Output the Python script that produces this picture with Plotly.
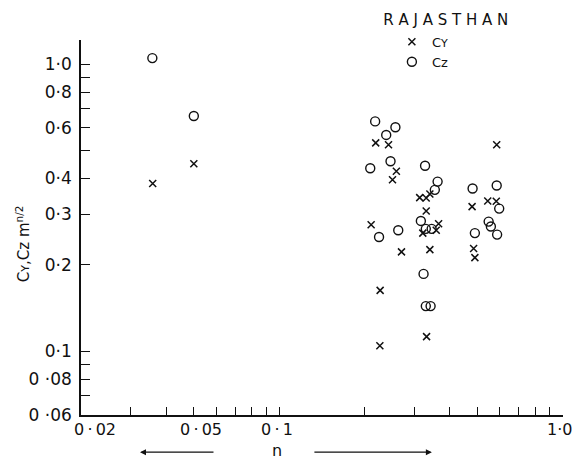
import plotly.graph_objects as go
import numpy as np

# ---- data ----
n_cy = [0.0358, 0.050, 0.219, 0.243, 0.585, 0.259, 0.251, 0.313, 0.330, 0.340,
        0.330, 0.211, 0.365, 0.358, 0.321, 0.479, 0.544, 0.583, 0.270, 0.340,
        0.485, 0.490, 0.227, 0.331, 0.2265]
cy = [0.384, 0.450, 0.532, 0.524, 0.524, 0.424, 0.396, 0.343, 0.342, 0.353,
      0.308, 0.276, 0.278, 0.264, 0.258, 0.319, 0.334, 0.333, 0.222, 0.226,
      0.228, 0.212, 0.163, 0.1125, 0.1045]

n_cz = [0.0357, 0.050, 0.218, 0.257, 0.2385, 0.2095, 0.247, 0.327, 0.362, 0.354,
        0.481, 0.585, 0.597, 0.316, 0.329, 0.345, 0.263, 0.225, 0.490, 0.548,
        0.558, 0.587, 0.323, 0.329, 0.342]
cz = [1.05, 0.66, 0.632, 0.603, 0.567, 0.434, 0.459, 0.443, 0.390, 0.365,
      0.369, 0.378, 0.314, 0.2845, 0.267, 0.267, 0.264, 0.250, 0.258, 0.283,
      0.272, 0.255, 0.186, 0.1437, 0.1437]

TS = "\u2009"   # thin space, mimics the wide hand lettering
x_tickvals = [0.02, 0.03, 0.04, 0.05, 0.06, 0.07, 0.08, 0.09, 0.1,
              0.2, 0.3, 0.4, 0.5, 0.6, 0.7, 0.8, 0.9, 1.0]
x_labelvals = [0.02, 0.05, 0.1, 1.0]
x_labeltext = ["0" + TS + "·" + TS + "02", "0" + TS + "·" + TS + "05",
               "0" + TS + "·" + TS + "1", "1·0"]
x_labelshift = [14, 7, -2, -3]   # hand-lettered labels sit slightly off their ticks
y_tickvals = [0.06, 0.07, 0.08, 0.09, 0.1, 0.2, 0.3, 0.4, 0.5, 0.6, 0.7, 0.8, 0.9, 1.0]
y_ticktext = ["0 ·06", "", "0 ·08", "", "0·1", "0·2", "0·3", "0·4", "", "0·6", "", "0·8", "", "1·0"]

INK = "#111111"
FONT = "DejaVu Sans"
small_y = "<span style='font-size:11px'>Y</span>"

fig = go.Figure()
fig.add_trace(go.Scatter(
    x=n_cy, y=cy, mode="markers", name="C" + small_y,
    marker=dict(symbol="x-thin", size=7, color=INK,
                line=dict(color=INK, width=1.5)),
))
fig.add_trace(go.Scatter(
    x=n_cz, y=cz, mode="markers", name="Cz",
    marker=dict(symbol="circle-open", size=9, color=INK,
                line=dict(color=INK, width=1.4)),
))

fig.update_layout(
    width=573, height=459,
    margin=dict(l=81, r=10, t=40, b=44, autoexpand=False),
    paper_bgcolor="white", plot_bgcolor="white",
    font=dict(family=FONT, color=INK, size=16),
    showlegend=True,
    legend=dict(x=0.645, y=1.035, xanchor="left", yanchor="top",
                bgcolor="rgba(0,0,0,0)", font=dict(size=13, family=FONT),
                tracegroupgap=0, itemsizing="trace"),
    title=dict(text="R A J A S T H A N", x=0.778, xanchor="center",
               y=0.956, yanchor="middle", font=dict(size=15, family=FONT)),
)

fig.update_xaxes(
    type="log", range=[np.log10(0.02), 0.001],
    tickvals=x_tickvals, showticklabels=False,
    ticks="inside", ticklen=8, tickwidth=1.2, tickcolor=INK,
    showline=True, linecolor=INK, linewidth=1.5, mirror=False,
    showgrid=False, zeroline=False, automargin=False,
)
fig.update_yaxes(
    type="log", range=[np.log10(0.06), np.log10(1.214)],
    tickvals=y_tickvals, ticktext=y_ticktext,
    ticks="inside", ticklen=9, tickwidth=1.2, tickcolor=INK,
    showline=True, linecolor=INK, linewidth=1.5, mirror=False,
    showgrid=False, zeroline=False, ticklabelstandoff=4,
    ticklabeloverflow="allow", automargin=False,
    tickfont=dict(size=17, family=FONT),
)

# x tick labels placed at their tick values
for v, t, s in zip(x_labelvals, x_labeltext, x_labelshift):
    fig.add_annotation(text=t, xref="x", yref="paper", x=np.log10(v), y=0,
                       xanchor="center", yanchor="top", xshift=s, yshift=-3,
                       showarrow=False, font=dict(size=16, family=FONT))

# axis title (rotated) and x-label with direction arrows
fig.add_annotation(text="C" + small_y + ",Cz m<sup>n/2</sup>", textangle=-90,
                   xref="paper", yref="paper", x=-0.12, y=0.456,
                   xanchor="center", yanchor="middle", showarrow=False,
                   font=dict(size=15, family=FONT))
fig.add_annotation(text="n", xref="paper", yref="paper", x=0.4066, y=-0.094,
                   xanchor="center", yanchor="middle", showarrow=False,
                   font=dict(size=16, family=FONT))
fig.add_annotation(text="", xref="paper", yref="paper", x=0.1224, y=-0.099,
                   ax=75, ay=0, showarrow=True, arrowhead=2, arrowsize=1,
                   arrowwidth=1.2, arrowcolor=INK)
fig.add_annotation(text="", xref="paper", yref="paper", x=0.728, y=-0.099,
                   ax=-119, ay=0, showarrow=True, arrowhead=2, arrowsize=1,
                   arrowwidth=1.2, arrowcolor=INK)

fig.write_html("out.html")
